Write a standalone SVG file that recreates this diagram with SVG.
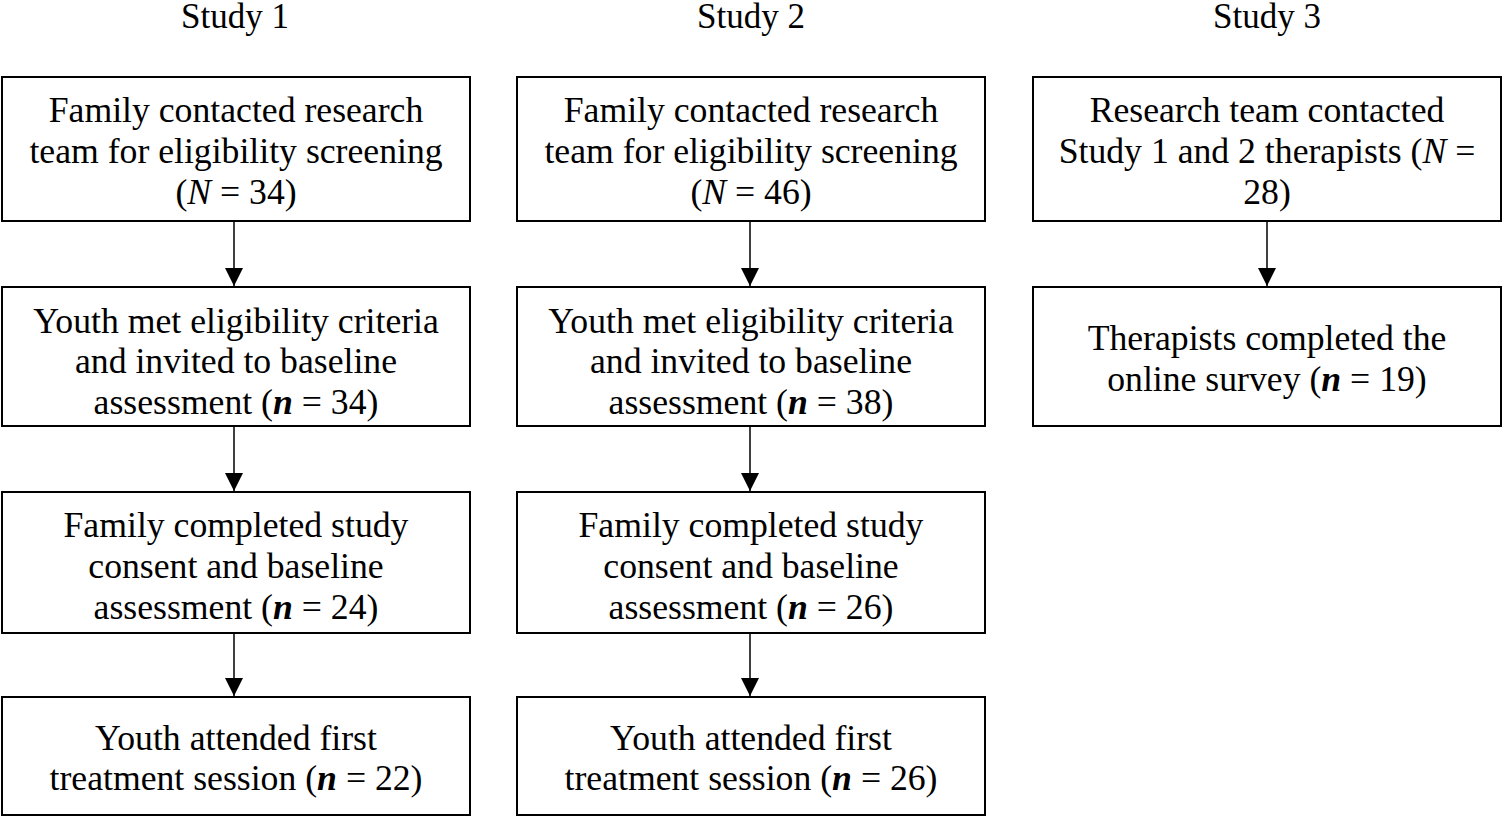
<svg xmlns="http://www.w3.org/2000/svg" width="1503" height="817" viewBox="0 0 1503 817">
<style>
.box{fill:#fff;stroke:#000;stroke-width:2}
text{font-family:"Liberation Serif","Times New Roman",serif;font-size:35.7px;fill:#000;text-anchor:middle}
.t{font-size:35px}
.i{font-style:italic}
.b{font-style:italic;font-weight:bold}
.c{stroke:#000;stroke-width:1.5;fill:none}
</style>
<defs>
<marker id="ah" markerWidth="18" markerHeight="18" refX="10" refY="5" orient="auto" markerUnits="userSpaceOnUse" viewBox="0 0 10 10">
<path d="M0,0 L10,5 L0,10 Z" fill="#000"/>
</marker>
</defs>
<rect width="1503" height="817" fill="#fff"/>
<g id="titles">
<text class="t" x="235" y="28">Study 1</text>
<text class="t" x="751" y="28">Study 2</text>
<text class="t" x="1267" y="28">Study 3</text>
</g>
<g id="connectors">
<line class="c" x1="234" y1="222" x2="234" y2="286" marker-end="url(#ah)"/>
<line class="c" x1="234" y1="427" x2="234" y2="491" marker-end="url(#ah)"/>
<line class="c" x1="234" y1="634" x2="234" y2="696" marker-end="url(#ah)"/>
<line class="c" x1="750" y1="222" x2="750" y2="286" marker-end="url(#ah)"/>
<line class="c" x1="750" y1="427" x2="750" y2="491" marker-end="url(#ah)"/>
<line class="c" x1="750" y1="634" x2="750" y2="696" marker-end="url(#ah)"/>
<line class="c" x1="1267" y1="222" x2="1267" y2="286" marker-end="url(#ah)"/>
</g>
<g id="s1n1"><rect class="box" x="2" y="77" width="468" height="144"/>
<text x="236" y="122">Family contacted research</text>
<text x="236" y="163">team for eligibility screening</text>
<text x="236" y="204">(<tspan class="i">N</tspan> = 34)</text></g>
<g id="s1n2"><rect class="box" x="2" y="287" width="468" height="139"/>
<text x="236" y="333">Youth met eligibility criteria</text>
<text x="236" y="373">and invited to baseline</text>
<text x="236" y="414">assessment (<tspan class="b">n</tspan> = 34)</text></g>
<g id="s1n3"><rect class="box" x="2" y="492" width="468" height="141"/>
<text x="236" y="537">Family completed study</text>
<text x="236" y="578">consent and baseline</text>
<text x="236" y="619">assessment (<tspan class="b">n</tspan> = 24)</text></g>
<g id="s1n4"><rect class="box" x="2" y="697" width="468" height="118"/>
<text x="236" y="750">Youth attended first</text>
<text x="236" y="790">treatment session (<tspan class="b">n</tspan> = 22)</text></g>
<g id="s2n1"><rect class="box" x="517" y="77" width="468" height="144"/>
<text x="751" y="122">Family contacted research</text>
<text x="751" y="163">team for eligibility screening</text>
<text x="751" y="204">(<tspan class="i">N</tspan> = 46)</text></g>
<g id="s2n2"><rect class="box" x="517" y="287" width="468" height="139"/>
<text x="751" y="333">Youth met eligibility criteria</text>
<text x="751" y="373">and invited to baseline</text>
<text x="751" y="414">assessment (<tspan class="b">n</tspan> = 38)</text></g>
<g id="s2n3"><rect class="box" x="517" y="492" width="468" height="141"/>
<text x="751" y="537">Family completed study</text>
<text x="751" y="578">consent and baseline</text>
<text x="751" y="619">assessment (<tspan class="b">n</tspan> = 26)</text></g>
<g id="s2n4"><rect class="box" x="517" y="697" width="468" height="118"/>
<text x="751" y="750">Youth attended first</text>
<text x="751" y="790">treatment session (<tspan class="b">n</tspan> = 26)</text></g>
<g id="s3n1"><rect class="box" x="1033" y="77" width="468" height="144"/>
<text x="1267" y="122">Research team contacted</text>
<text x="1267" y="163">Study 1 and 2 therapists (<tspan class="i">N</tspan> =</text>
<text x="1267" y="204">28)</text></g>
<g id="s3n2"><rect class="box" x="1033" y="287" width="468" height="139"/>
<text x="1267" y="350">Therapists completed the</text>
<text x="1267" y="391">online survey (<tspan class="b">n</tspan> = 19)</text></g>
</svg>
